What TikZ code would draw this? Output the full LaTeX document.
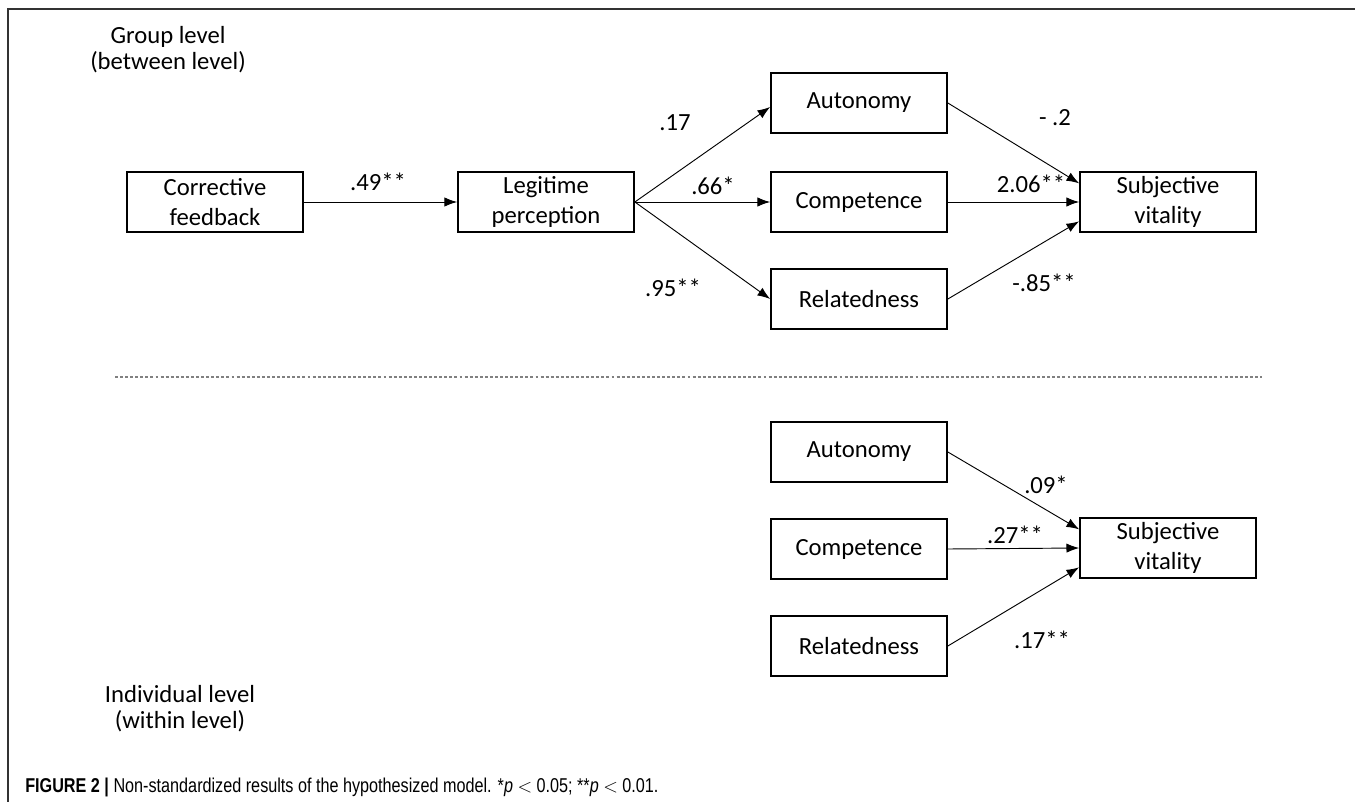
\documentclass[tikz,border=0pt]{standalone}
\usepackage{fontspec}
\setmainfont{Carlito}
\newfontfamily\capfont[FakeStretch=0.81]{Liberation Sans}
\usetikzlibrary{arrows.meta}

\begin{document}
\begin{tikzpicture}[x=0.75pt, y=-0.75pt,
        every node/.style={font=\fontsize{18.5}{22.5}\selectfont, inner sep=0pt},
        box/.style={draw, line width=1.3pt, minimum width=132pt, minimum height=44.5pt, align=center},
        arr/.style={-{Latex[length=9.5pt,width=7pt]}, line width=0.7pt},
        lbl/.style={anchor=center}]
    \useasboundingbox (0,0) rectangle (1355,802);
    \draw[line width=1.8pt, gray!40!black] (8,802) -- (8,9) -- (1355,9);

    \node[align=center, font=\fontsize{18.5}{19.5}\selectfont] (grp) at (168,50) {Group level\\(between level)};
    \node[align=center, font=\fontsize{18.5}{19.5}\selectfont] (ind) at (180,709) {Individual level\\(within level)};

    % group level
    \node[box] (cf) at (215,202) {Corrective\\feedback};
    \node[box] (lp) at (546,202) {Legitime\\perception};
    \node[box] (au1) at (859,103) {Autonomy};
    \node[box] (co1) at (859,202) {Competence};
    \node[box] (re1) at (859,299) {Relatedness};
    \node[box] (sv1) at (1168,202) {Subjective\\vitality};

    \draw[arr] (cf) -- (lp);
    \draw[arr] (lp.east) -- ([yshift=-3pt]au1.west);
    \draw[arr] (lp.east) -- (co1.west);
    \draw[arr] (lp.east) -- (re1.west);
    \draw[arr] (au1.east) -- ([yshift=14pt]sv1.west);
    \draw[arr] (co1.east) -- (sv1.west);
    \draw[arr] (re1.east) -- ([yshift=-14.5pt]sv1.west);

    \node[lbl] (b1) at (378,182) {.49**};
    \node[lbl] (b2) at (675,123) {.17};
    \node[lbl] (b3) at (713,186) {.66*};
    \node[lbl] (b4) at (673,288) {.95**};
    \node[lbl] (b5) at (1055,118) {- .2};
    \node[lbl] (b6) at (1031,184) {2.06**};
    \node[lbl] (b7) at (1044,283) {-.85**};

    \draw[gray, line width=1.1pt, dash pattern=on 2.2pt off 1.6pt] (115,377) -- (1262,377);

    % individual level
    \node[box] (au2) at (859,452) {Autonomy};
    \node[box] (co2) at (859,549) {Competence};
    \node[box] (re2) at (859,646) {Relatedness};
    \node[box] (sv2) at (1168,548) {Subjective\\vitality};

    \draw[arr] (au2.east) -- ([yshift=14pt]sv2.west);
    \draw[arr] (co2.east) -- (sv2.west);
    \draw[arr] (re2.east) -- ([yshift=-14.5pt]sv2.west);

    \node[lbl] (w1) at (1046,485) {.09*};
    \node[lbl] (w2) at (1015,535) {.27**};
    \node[lbl] (w3) at (1042,640) {.17**};

    \node[anchor=west, font=\capfont\fontsize{15}{18}\selectfont] (cap) at (25,787)
        {\textbf{FIGURE 2 |} Non-standardized results of the hypothesized model. *\textit{p} $<$ 0.05; **\textit{p} $<$ 0.01.};
\end{tikzpicture}
\end{document}
